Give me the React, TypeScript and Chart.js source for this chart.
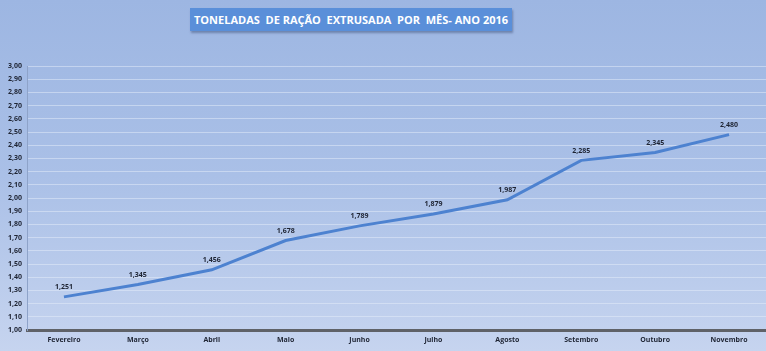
import React, { useEffect, useRef } from "react";
import { Chart, registerables } from "chart.js";

Chart.register(...registerables);

const TITLE = "TONELADAS  DE RAÇÃO  EXTRUSADA  POR  MÊS- ANO 2016";
const months = ["Fevereiro", "Março", "Abril", "Maio", "Junho", "Julho", "Agosto", "Setembro", "Outubro", "Novembro"];
const values = [1.251, 1.345, 1.456, 1.678, 1.789, 1.879, 1.987, 2.285, 2.345, 2.48];
const valueLabels = ["1,251", "1,345", "1,456", "1,678", "1,789", "1,879", "1,987", "2,285", "2,345", "2,480"];
const yMin = 1;
const yMax = 3;
const yStep = 0.1;

const FONT = "'Liberation Sans Narrow', 'Open Sans', 'DejaVu Sans Condensed', sans-serif";

const labelPlugin = {
  id: "pointLabels",
  afterDatasetsDraw(chart: any) {
    const ctx = chart.ctx;
    const meta = chart.getDatasetMeta(0);
    ctx.save();
    ctx.font = `bold 7px ${FONT}`;
    ctx.fillStyle = "#1e2433";
    ctx.textAlign = "center";
    ctx.textBaseline = "bottom";
    meta.data.forEach((pt: any, i: number) => {
      ctx.fillText(valueLabels[i], pt.x, pt.y - 6);
    });
    ctx.restore();
  },
};

export default function App() {
  const ref = useRef<HTMLCanvasElement | null>(null);
  useEffect(() => {
    document.body.style.margin = "0";
    const chart = new Chart(ref.current as HTMLCanvasElement, {
      type: "line",
      data: {
        labels: months,
        datasets: [
          {
            data: values,
            borderColor: "#4d82d0",
            borderWidth: 3,
            pointRadius: 0,
            tension: 0,
            fill: false,
          },
        ],
      },
      options: {
        animation: false,
        responsive: false,
        maintainAspectRatio: false,
        layout: { padding: { top: 66, right: 0, left: 0, bottom: 0 } },
        plugins: { legend: { display: false }, tooltip: { enabled: false }, title: { display: false } },
        scales: {
          x: {
            offset: true,
            grid: { display: false, drawTicks: false },
            border: { display: true, color: "#5f6268", width: 3 },
            ticks: {
              color: "#1e2433",
              font: { family: FONT, size: 7, weight: "bold" },
              padding: 6,
              maxRotation: 0,
              autoSkip: false,
            },
            afterFit(scale: any) {
              scale.height = 21;
            },
          },
          y: {
            min: yMin,
            max: yMax,
            grid: { color: "rgba(230,238,250,0.5)", lineWidth: 1, drawTicks: false },
            border: { display: true, color: "#8ea3c9", width: 1 },
            ticks: {
              stepSize: yStep,
              color: "#1e2433",
              font: { family: FONT, size: 7, weight: "bold" },
              padding: 5,
              callback: (v: any) => Number(v).toFixed(2).replace(".", ","),
            },
            afterFit(scale: any) {
              scale.width = 27;
            },
          },
        },
      },
      plugins: [labelPlugin],
    });
    return () => chart.destroy();
  }, []);

  return (
    <div
      style={{
        position: "relative",
        width: 766,
        height: 351,
        background: "linear-gradient(to bottom, #9db6e2 0%, #aac0e7 50%, #c6d4ef 100%)",
        overflow: "hidden",
      }}
    >
      <div
        style={{
          position: "absolute",
          left: 190,
          top: 8,
          width: 322,
          height: 23,
          background: "#5a8fd9",
          boxShadow: "1px 2px 2px rgba(60,80,120,0.5)",
          color: "#ffffff",
          fontFamily: FONT,
          fontWeight: "bold",
          fontSize: 11,
          lineHeight: "23px",
          textAlign: "center",
          whiteSpace: "pre",
        }}
      >
        {TITLE}
      </div>
      <canvas ref={ref} width={766} height={351} style={{ position: "absolute", left: 0, top: 0 }} />
    </div>
  );
}
